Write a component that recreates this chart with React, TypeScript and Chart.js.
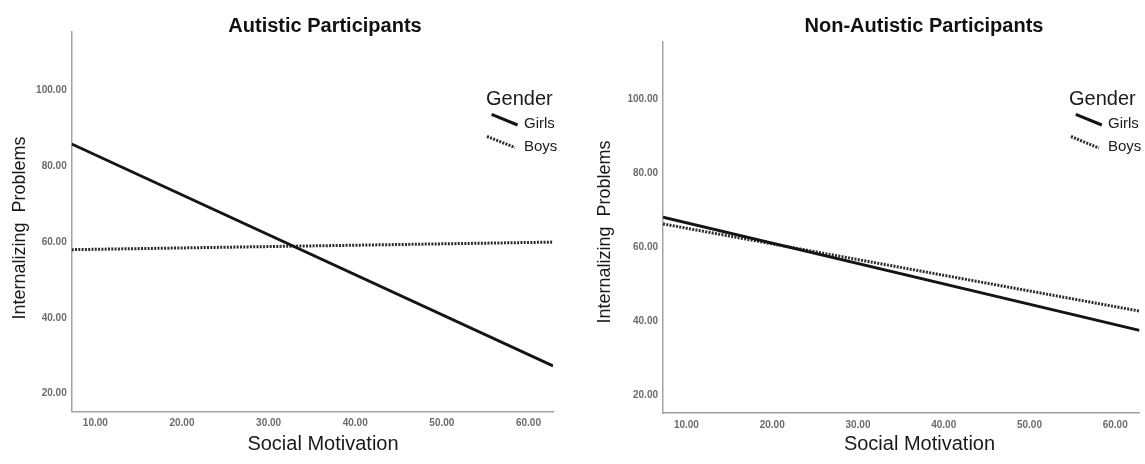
import React, { useEffect, useRef } from "react";
import { Chart, registerables } from "chart.js";

Chart.register(...registerables);

// ---------- data ----------
const panelTitles = ["Autistic Participants", "Non-Autistic Participants"];
const seriesLabels = ["Girls", "Boys"];
const legendTitle = "Gender";
const xAxisTitle = "Social Motivation";
const yAxisTitle = "Internalizing  Problems";

const xEnds = [7.27, 62.83]; // Social Motivation at the two ends of each fitted line
const autisticGirls = [85.9, 27.3];
const autisticBoys = [58.0, 60.0];
const nonAutisticGirls = [68.1, 37.6];
const nonAutisticBoys = [66.3, 42.8];

const xTickValues = [10, 20, 30, 40, 50, 60];
const yTickValues = [20, 40, 60, 80, 100];
const autisticYRange = [15.2, 115.5];
const nonAutisticYRange = [15.34, 115.4];

const FONT = "'Liberation Sans', Arial, Helvetica, sans-serif";
const H = 464;

type Layout = {
  canvasLeft: number;
  width: number;
  plotLeft: number;
  plotRight: number;
  plotTop: number;
  plotBottom: number;
  titleX: number;
  titleY: number;
  yTitleX: number;
  yTitleY: number;
  xTitleX: number;
  xTitleY: number;
  legendX: number; // left of "Gender"
  girlsLine: number[]; // x1,y1,x2,y2
  boysLine: number[];
  legendTextX: number;
};

const textPlugin = {
  id: "panelText",
  afterDraw(chart: any, _args: any, opts: any) {
    const ctx = chart.ctx as CanvasRenderingContext2D;
    const L: Layout = opts.layout;
    ctx.save();
    // panel title
    ctx.fillStyle = "#111";
    ctx.font = `bold 20px ${FONT}`;
    ctx.textAlign = "center";
    ctx.textBaseline = "alphabetic";
    ctx.fillText(opts.title, L.titleX, L.titleY);
    // x axis title
    ctx.font = `20px ${FONT}`;
    ctx.textBaseline = "middle";
    ctx.fillStyle = "#1a1a1a";
    ctx.fillText(xAxisTitle, L.xTitleX, L.xTitleY);
    // y axis title
    ctx.save();
    ctx.translate(L.yTitleX, L.yTitleY);
    ctx.rotate(-Math.PI / 2);
    ctx.font = `18px ${FONT}`;
    ctx.fillText(yAxisTitle, 0, 0);
    ctx.restore();
    // legend
    ctx.textAlign = "left";
    ctx.textBaseline = "middle";
    ctx.font = `20px ${FONT}`;
    ctx.fillText(legendTitle, L.legendX, 99);
    ctx.font = `15px ${FONT}`;
    ctx.fillText(seriesLabels[0], L.legendTextX, 123.5);
    ctx.fillText(seriesLabels[1], L.legendTextX, 147);
    // legend symbols
    const ds = chart.data.datasets;
    ctx.lineCap = "butt";
    ctx.strokeStyle = ds[0].borderColor;
    ctx.lineWidth = 3;
    ctx.setLineDash([]);
    ctx.beginPath();
    ctx.moveTo(L.girlsLine[0], L.girlsLine[1]);
    ctx.lineTo(L.girlsLine[2], L.girlsLine[3]);
    ctx.stroke();
    ctx.strokeStyle = ds[1].borderColor;
    ctx.setLineDash(ds[1].borderDash);
    ctx.beginPath();
    ctx.moveTo(L.boysLine[0], L.boysLine[1]);
    ctx.lineTo(L.boysLine[2], L.boysLine[3]);
    ctx.stroke();
    ctx.restore();
  },
};

function Panel(props: {
  title: string;
  girls: number[];
  boys: number[];
  yRange: number[];
  layout: Layout;
}) {
  const ref = useRef<HTMLCanvasElement>(null);
  const { title, girls, boys, yRange, layout: L } = props;
  useEffect(() => {
    if (!ref.current) return;
    const xAxisHeight = 24;
    const chart = new Chart(ref.current, {
      type: "line",
      data: {
        datasets: [
          {
            label: seriesLabels[0],
            data: xEnds.map((x, i) => ({ x, y: girls[i] })),
            borderColor: "#141414",
            borderWidth: 2.8,
            pointRadius: 0,
            tension: 0,
          },
          {
            label: seriesLabels[1],
            data: xEnds.map((x, i) => ({ x, y: boys[i] })),
            borderColor: "#2c2c2c",
            borderWidth: 3,
            borderDash: [2, 1.3],
            pointRadius: 0,
            tension: 0,
          },
        ],
      },
      options: {
        responsive: false,
        animation: false,
        devicePixelRatio: 1,
        events: [],
        layout: {
          padding: {
            left: 0,
            top: L.plotTop,
            right: L.width - L.plotRight,
            bottom: H - L.plotBottom - xAxisHeight,
          },
        },
        plugins: {
          legend: { display: false },
          title: { display: false },
          tooltip: { enabled: false },
          panelText: { title, layout: L },
        } as any,
        scales: {
          x: {
            type: "linear",
            min: xEnds[0],
            max: xEnds[1],
            grid: { display: false, drawTicks: false },
            border: { display: true, color: "#a3a3a3", width: 1.5 },
            ticks: {
              padding: 6,
              color: "#6b6b6b",
              font: { family: FONT, size: 10, weight: "bold" },
              callback: (v: any) => Number(v).toFixed(2),
            },
            afterBuildTicks: (s: any) => {
              s.ticks = xTickValues.map((value) => ({ value }));
            },
            afterFit: (s: any) => {
              s.height = xAxisHeight;
            },
          },
          y: {
            type: "linear",
            min: yRange[0],
            max: yRange[1],
            grid: { display: false, drawTicks: false },
            border: { display: true, color: "#a3a3a3", width: 1.5 },
            ticks: {
              padding: 5,
              color: "#6b6b6b",
              font: { family: FONT, size: 10, weight: "bold" },
              callback: (v: any) => Number(v).toFixed(2),
            },
            afterBuildTicks: (s: any) => {
              s.ticks = yTickValues.map((value) => ({ value }));
            },
            afterFit: (s: any) => {
              s.width = L.plotLeft;
            },
          },
        },
      },
      plugins: [textPlugin],
    });
    return () => chart.destroy();
  }, []);
  return (
    <canvas
      ref={ref}
      width={L.width}
      height={H}
      style={{ position: "absolute", left: L.canvasLeft, top: 0, width: L.width, height: H, display: "block" }}
    />
  );
}

const leftLayout: Layout = {
  canvasLeft: 0,
  width: 572,
  plotLeft: 71.7,
  plotRight: 553,
  plotTop: 32,
  plotBottom: 411.7,
  titleX: 325,
  titleY: 32,
  yTitleX: 20,
  yTitleY: 228,
  xTitleX: 323,
  xTitleY: 444.5,
  legendX: 486,
  girlsLine: [491.6, 114.3, 517.6, 125],
  boysLine: [487, 136.5, 515, 147.5],
  legendTextX: 524,
};

const rightLayout: Layout = {
  canvasLeft: 572,
  width: 573,
  plotLeft: 91,
  plotRight: 567.5,
  plotTop: 41.7,
  plotBottom: 413,
  titleX: 352,
  titleY: 32,
  yTitleX: 33.5,
  yTitleY: 232,
  xTitleX: 347.5,
  xTitleY: 444.5,
  legendX: 497,
  girlsLine: [503.8, 114.3, 529.8, 125],
  boysLine: [499, 136.5, 527, 148],
  legendTextX: 536,
};

export default function App() {
  return (
    <div style={{ position: "absolute", left: 0, top: 0, width: 1145, height: H, background: "#fff" }}>
      <Panel title={panelTitles[0]} girls={autisticGirls} boys={autisticBoys} yRange={autisticYRange} layout={leftLayout} />
      <Panel title={panelTitles[1]} girls={nonAutisticGirls} boys={nonAutisticBoys} yRange={nonAutisticYRange} layout={rightLayout} />
    </div>
  );
}
